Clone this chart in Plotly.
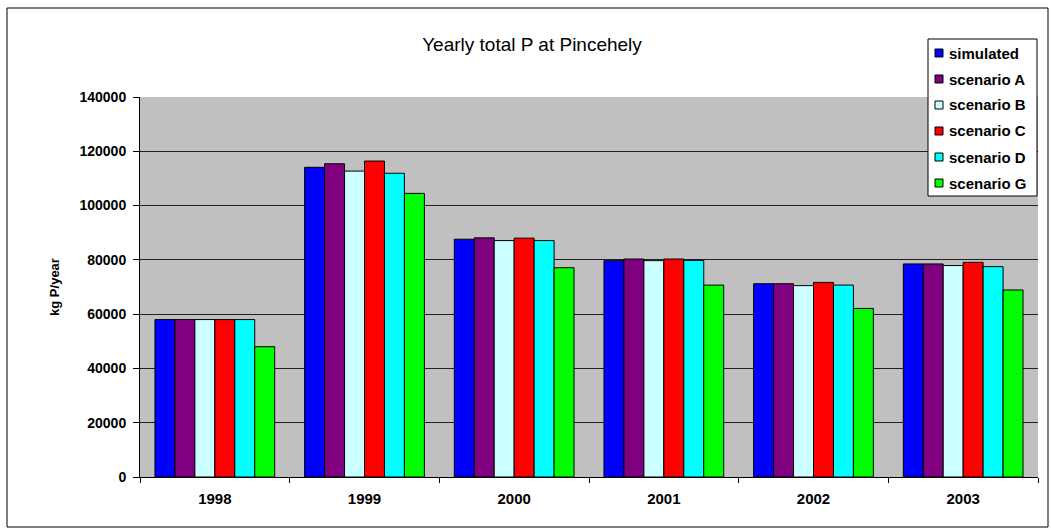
import plotly.graph_objects as go

years = ["1998", "1999", "2000", "2001", "2002", "2003"]
series_names = ["simulated", "scenario A", "scenario B", "scenario C", "scenario D", "scenario G"]
simulated = [58000, 114100, 87600, 79700, 71200, 78500]
scenario_a = [58000, 115400, 88100, 80300, 71200, 78500]
scenario_b = [58000, 112700, 87100, 79700, 70500, 77900]
scenario_c = [58000, 116400, 88000, 80300, 71700, 79100]
scenario_d = [58000, 111900, 87100, 79800, 70700, 77500]
scenario_g = [48000, 104500, 77100, 70700, 62100, 68900]
colors = ["#0000FF", "#800080", "#CCFFFF", "#FF0000", "#00FFFF", "#00FF00"]
y_ticks = [0, 20000, 40000, 60000, 80000, 100000, 120000, 140000]

values = [simulated, scenario_a, scenario_b, scenario_c, scenario_d, scenario_g]

W, H = 1051, 530
L, R, T, B = 140, 13, 97, 53
PW, PH = W - L - R, H - T - B


def px(x):
    """pixel column -> paper x"""
    return (x - L) / PW


def py(y):
    """pixel row -> paper y"""
    return (H - B - y) / PH


fig = go.Figure()
for name, vals, col in zip(series_names, values, colors):
    fig.add_trace(go.Bar(
        x=years, y=vals, name=name, showlegend=False,
        marker=dict(color=col, line=dict(color="#000000", width=1)),
    ))

FONT = "Arial, Liberation Sans, sans-serif"

fig.update_layout(
    width=W, height=H,
    margin=dict(l=L, r=R, t=T, b=B),
    paper_bgcolor="#FFFFFF",
    plot_bgcolor="#C0C0C0",
    barmode="group", bargap=0.2, bargroupgap=0,
    font=dict(family=FONT, color="#000000"),
    title=dict(text="Yearly total P at Pincehely", x=532 / W, xref="container", xanchor="center",
               y=1 - 44 / H, yref="container", yanchor="middle",
               font=dict(size=19, color="#000")),
)

fig.update_xaxes(
    type="category", showgrid=False, showline=True, linecolor="#000", linewidth=1,
    ticks="outside", tickson="boundaries", ticklen=5, tickcolor="#000",
    ticklabelstandoff=8,
    tickfont=dict(size=15, weight="bold"),
)
fig.update_yaxes(
    range=[0, 140000], tickvals=y_ticks, ticktext=[str(v) for v in y_ticks],
    showgrid=True, gridcolor="#202020", gridwidth=1,
    showline=True, linecolor="#000", linewidth=1, zeroline=False,
    ticks="outside", ticklen=6, tickcolor="#000",
    ticklabelstandoff=4,
    tickfont=dict(size=14, weight="bold"),
    title=dict(text="kg P/year", font=dict(size=13, weight="bold"), standoff=16),
)

# outer frame of the chart
fig.add_shape(type="rect", xref="paper", yref="paper",
              x0=px(7), x1=px(1048), y0=py(527), y1=py(8),
              line=dict(color="#000", width=1), fillcolor="rgba(0,0,0,0)", layer="above")

# legend box with small square swatches
fig.add_shape(type="rect", xref="paper", yref="paper",
              x0=px(928), x1=px(1037), y0=py(196), y1=py(39),
              line=dict(color="#000", width=1), fillcolor="#FFFFFF", layer="above")
for i, (name, col) in enumerate(zip(series_names, colors)):
    row = 53 + i * 26
    fig.add_shape(type="rect", xref="paper", yref="paper",
                  x0=px(935), x1=px(943), y0=py(row + 4), y1=py(row - 4),
                  line=dict(color="#000", width=1), fillcolor=col, layer="above")
    fig.add_annotation(x=px(947), y=py(row), xref="paper", yref="paper",
                       xanchor="left", yanchor="middle", showarrow=False,
                       text=name, font=dict(size=15, weight="bold", color="#000"))

fig.write_html("out.html")
